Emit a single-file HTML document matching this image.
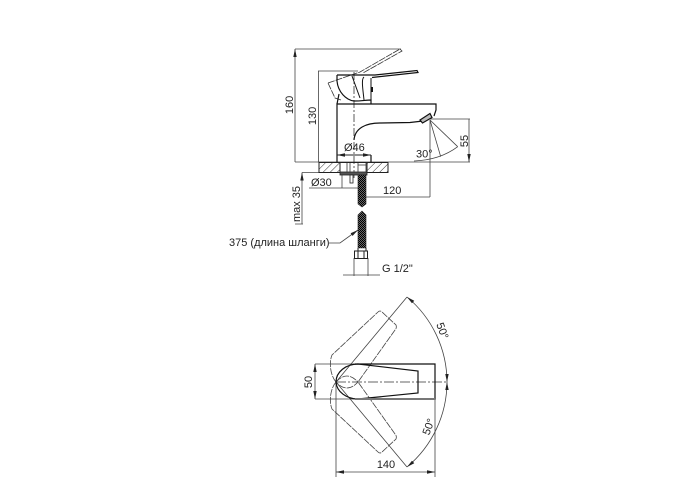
<!DOCTYPE html>
<html><head><meta charset="utf-8"><style>
html,body{margin:0;padding:0;background:#fff}
svg{display:block}
text{font-family:"Liberation Sans","Noto Sans CJK SC",sans-serif;font-size:11px;fill:#222}
</style></head><body>
<svg width="700" height="500" viewBox="0 0 700 500" xmlns="http://www.w3.org/2000/svg">
<defs>
<pattern id="h" width="5" height="5" patternUnits="userSpaceOnUse" patternTransform="rotate(45)"><line x1="0" y1="0" x2="0" y2="5" stroke="#333" stroke-width="1"/></pattern>
<pattern id="m" width="2" height="2" patternUnits="userSpaceOnUse"><rect width="2" height="2" fill="#666"/><rect width="1" height="1" fill="#000"/><rect x="1" y="1" width="1" height="1" fill="#000"/></pattern>
<marker id="a" markerWidth="9" markerHeight="5" refX="8" refY="2.500" orient="auto-start-reverse" markerUnits="userSpaceOnUse"><path d="M0,0.8L8,2.500L0,4.200z" fill="#222"/></marker>
</defs>
<!-- dimension lines -->
<g fill="none" stroke="#444" stroke-width=".8">
<path d="M295,49H401M318,71H358M295,162H470M430,119H470"/>
<path d="M295,49V162M318.500,71V162M469,119V162" marker-start="url(#a)" marker-end="url(#a)"/>
<path d="M302,172.500H345M295,224H303M309,188H364M342,175V188M364,175V188M361,197H430M430,120V197M354,258V276M368,258V276M343,275H380"/>
<path d="M302,172.500V224" marker-start="url(#a)"/>
<path d="M329,243H340L358,230" marker-end="url(#a)"/>
</g>
<!-- spray -->
<g fill="none" stroke="#444" stroke-width=".8">
<path d="M430,120L457.700,146.700M430,120L440.700,156.700"/>
<path d="M414,161Q440,160 457.700,146.700"/>
</g>
<!-- ghost raised handle -->
<g fill="none" stroke="#333" stroke-width=".8" stroke-dasharray="7 1">
<path d="M328,83L360,72L400,49L402,51L363,73M328,83L335,98L341,100"/>
</g>
<!-- centre line -->
<path d="M354,72V178" stroke="#333" stroke-width=".8" stroke-dasharray="8 2 2 2" fill="none"/>
<!-- faucet -->
<g fill="none" stroke="#111" stroke-width="1.200">
<path d="M337,155V104H436V110L434,116M354,140C355,128 366,123 380,123L410,122.500L423,121" />
<path d="M337,155V162M371,155V162"/>
<path d="M337,75H375L417,70.500L418,72.500L372,77.500M337,75V81C338,92 346,100 354,101C362,101 366,100 371,100V104M339,94L337,104"/>
<path d="M371,78V100M364,77C361,79 363,90 364,100M352,76L360,98" stroke-width="1"/>
<path d="M372,87V92" stroke-width="2"/>
<path d="M420,120L430,113.500L432,117.500L422.500,123Z" fill="#bbb"/>
</g>
<path d="M337,155H371" fill="none" stroke="#222" stroke-width="1" marker-start="url(#a)" marker-end="url(#a)"/>
<!-- base -->
<rect x="319" y="162.500" width="21" height="10" fill="url(#h)" stroke="#222"/>
<rect x="367" y="162.500" width="21" height="10" fill="url(#h)" stroke="#222"/>
<path d="M319,162.500H388V172.500H319Z" fill="none" stroke="#222"/>
<rect x="340" y="172" width="27" height="3" fill="#555" stroke="#222" stroke-width=".8"/>
<path d="M347,163V172M350,163V172M358,163V172M366,163V172M358,165H366" fill="none" stroke="#333" stroke-width=".8"/>
<rect x="350" y="175" width="3" height="8" fill="#fff" stroke="#222" stroke-width=".8"/>
<!-- hose -->
<path d="M358,175H366V204L362,207L358,204Z" fill="url(#m)" stroke="#222" stroke-width=".6"/>
<path d="M358,215L362,211L366,215V248H358Z" fill="url(#m)" stroke="#222" stroke-width=".6"/>
<g fill="#fff" stroke="#222" stroke-width="1"><rect x="354.500" y="251" width="13" height="7.500"/></g>
<path d="M358,251V258M364,251V258M358,248V251M366,248V251" stroke="#222" fill="none"/>
<!-- top view -->
<g fill="none" stroke="#444" stroke-width=".8">
<path d="M315,364H355M315,399H355M336,382V477M435,399V477"/>
<path d="M315,364V399" marker-start="url(#a)" marker-end="url(#a)"/>
<path d="M336,472H435" marker-start="url(#a)" marker-end="url(#a)"/>
<path d="M336,382L407,297M336,382L407,467"/>
<path d="M407,297A111,111 0 0 1 447,382" marker-start="url(#a)" marker-end="url(#a)"/>
<path d="M407,467A111,111 0 0 0 447,382" marker-start="url(#a)" marker-end="url(#a)"/>
</g>
<path d="M336,382H448" stroke="#333" stroke-width=".8" stroke-dasharray="10 2 2 2" fill="none"/>
<g fill="none" stroke="#444" stroke-width=".8" stroke-dasharray="7 1">
<path d="M336,382C330,375 329,362 332,355L378,312Q380,310 382,312L396,325Q397,328 395,330L358,382"/>
<path d="M336,382C330,389 329,402 332,409L378,452Q380,454 382,452L396,439Q397,436 395,434L358,382"/>
<path d="M336,382Q347,370 358,382Q347,394 336,382Z"/>
</g>
<g fill="none" stroke="#111" stroke-width="1.200">
<path d="M355,364H435V399H355"/>
<path d="M358,364A22,18 0 0 0 336,382A22,18 0 0 0 358,399L418,393V371L358,364"/>
</g>
<path d="M355,399H435" stroke="#777" stroke-width="2" fill="none"/>
<!-- labels -->
<text x="0" y="0" transform="translate(293,105) rotate(-90)" text-anchor="middle">160</text>
<text x="0" y="0" transform="translate(316,116) rotate(-90)" text-anchor="middle">130</text>
<text x="344" y="151">Ø46</text>
<text x="416" y="157.500">30°</text>
<text x="0" y="0" transform="translate(468,141) rotate(-90)" text-anchor="middle">55</text>
<text x="311" y="186">Ø30</text>
<text x="383" y="194">120</text>
<text x="0" y="0" transform="translate(300,204) rotate(-90)" text-anchor="middle">max 35</text>
<text x="229" y="246">375 (длина шланги)</text>
<text x="382" y="272">G 1/2"</text>
<text x="0" y="0" transform="translate(312,382) rotate(-90)" text-anchor="middle">50</text>
<text x="386" y="468" text-anchor="middle">140</text>
<text x="0" y="0" transform="translate(439,332) rotate(70)" text-anchor="middle">50°</text>
<text x="0" y="0" transform="translate(432,428) rotate(-70)" text-anchor="middle">50°</text>
</svg>
</body></html>
